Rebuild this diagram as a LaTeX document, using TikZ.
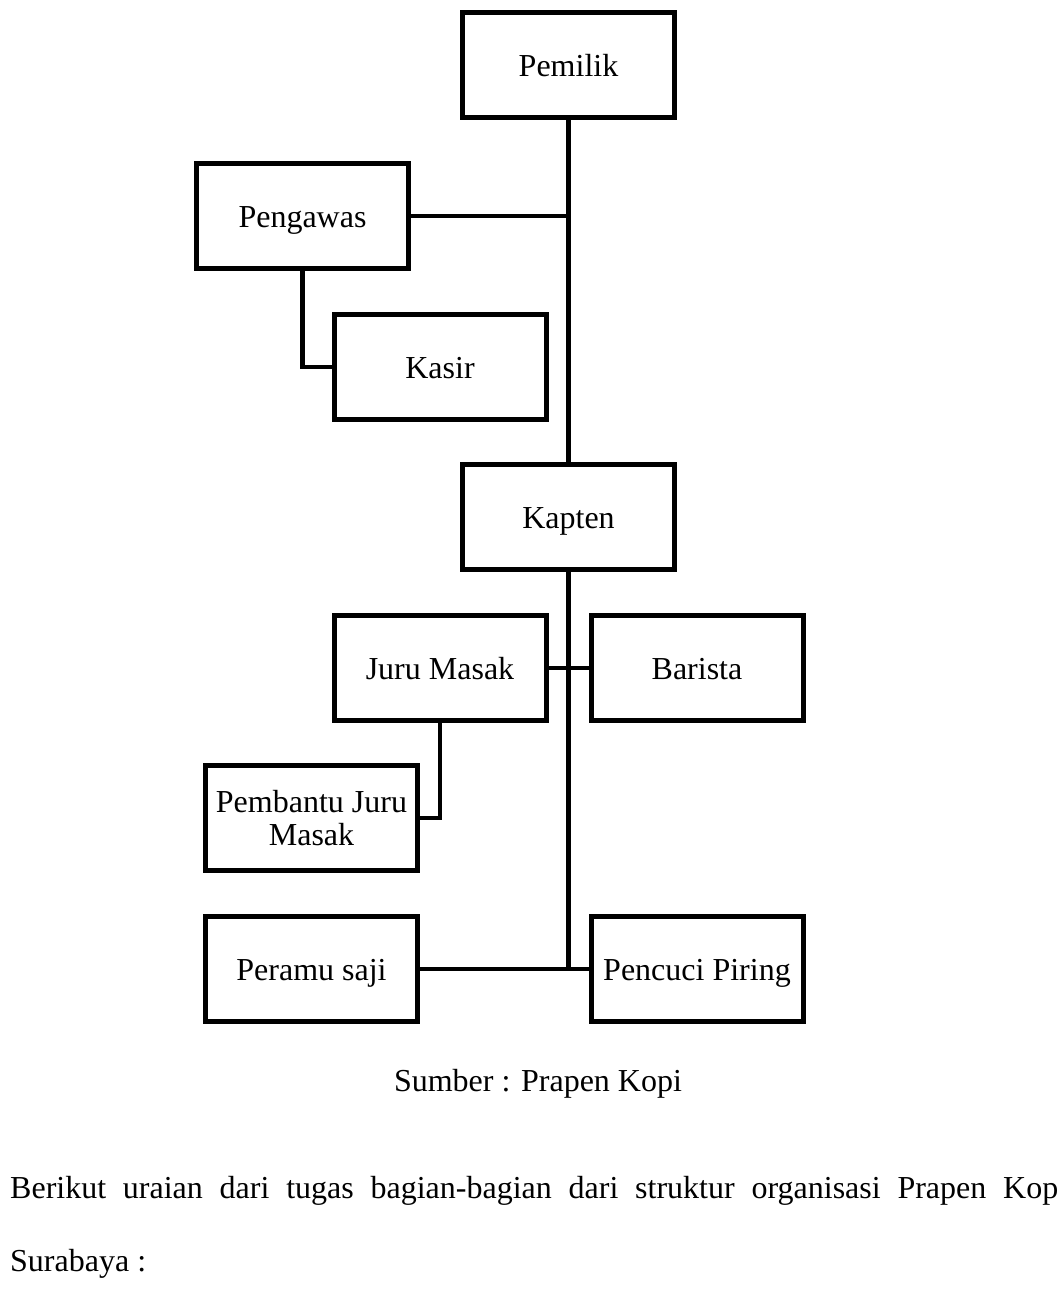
\documentclass[tikz,border=0pt]{standalone}
\usepackage{fontspec}
\setmainfont{Liberation Serif}
\usepackage{tikz}
\usetikzlibrary{calc}
\tikzset{
  kotak/.style={draw=black, line width=5pt, fill=white, minimum width=212pt, minimum height=105pt, inner sep=2pt, align=center, font=\fontsize{32}{33}\selectfont},
  jabatan/.style={kotak, text height=22pt, text depth=0pt},
  garis/.style={line width=4.5pt},
  teks/.style={inner sep=0pt, font=\fontsize{32}{38}\selectfont}
}

\begin{document}
\begin{tikzpicture}[x=1pt, y=-1pt]
			%%%%% START %%%%%
			\useasboundingbox (0, 0) rectangle (1060, 1315);
			
			\node[jabatan] (pemilik) at (568.5, 65) {Pemilik};
			\node[jabatan] (pengawas) at (302.5, 216) {Pengawas};
			\node[jabatan] (kasir) at (440, 367) {Kasir};
			\node[jabatan] (kapten) at (568.5, 517) {Kapten};
			\node[jabatan] (juru) at (440, 668) {Juru Masak};
			\node[jabatan] (barista) at (697, 668) {Barista};
			\node[kotak] (pembantu) at (311.5, 818) {Pembantu Juru\\Masak};
			\node[jabatan] (peramu) at (311.5, 969) {Peramu saji};
			\node[jabatan] (pencuci) at (697, 969) {Pencuci Piring};
			
			\coordinate (ujung) at (kapten |- peramu);
			
			\draw[garis] (pemilik.south) -- (kapten.north);
			\draw[garis] (pengawas.east) -- (pemilik |- pengawas);
			\draw[garis] (pengawas.south) |- (kasir.west);
			\draw[garis] (kapten.south) -- (ujung);
			\draw[garis] (juru.east) -- (barista.west);
			\draw[garis] (juru.south) |- (pembantu.east);
			\draw[garis] (peramu.east) -- (pencuci.west);
			
			\node[teks, anchor=base] (sumber) at (538, 1091) {Sumber : Prapen Kopi};
			\node[teks, anchor=base west] (baris1) at (10, 1198) {\makebox[1048pt][s]{Berikut uraian dari tugas bagian-bagian dari struktur organisasi Prapen Kop}};
			\node[teks, anchor=base west] (baris2) at (10, 1271) {Surabaya :};
			%%%%% END %%%%%
\end{tikzpicture}
\end{document}
